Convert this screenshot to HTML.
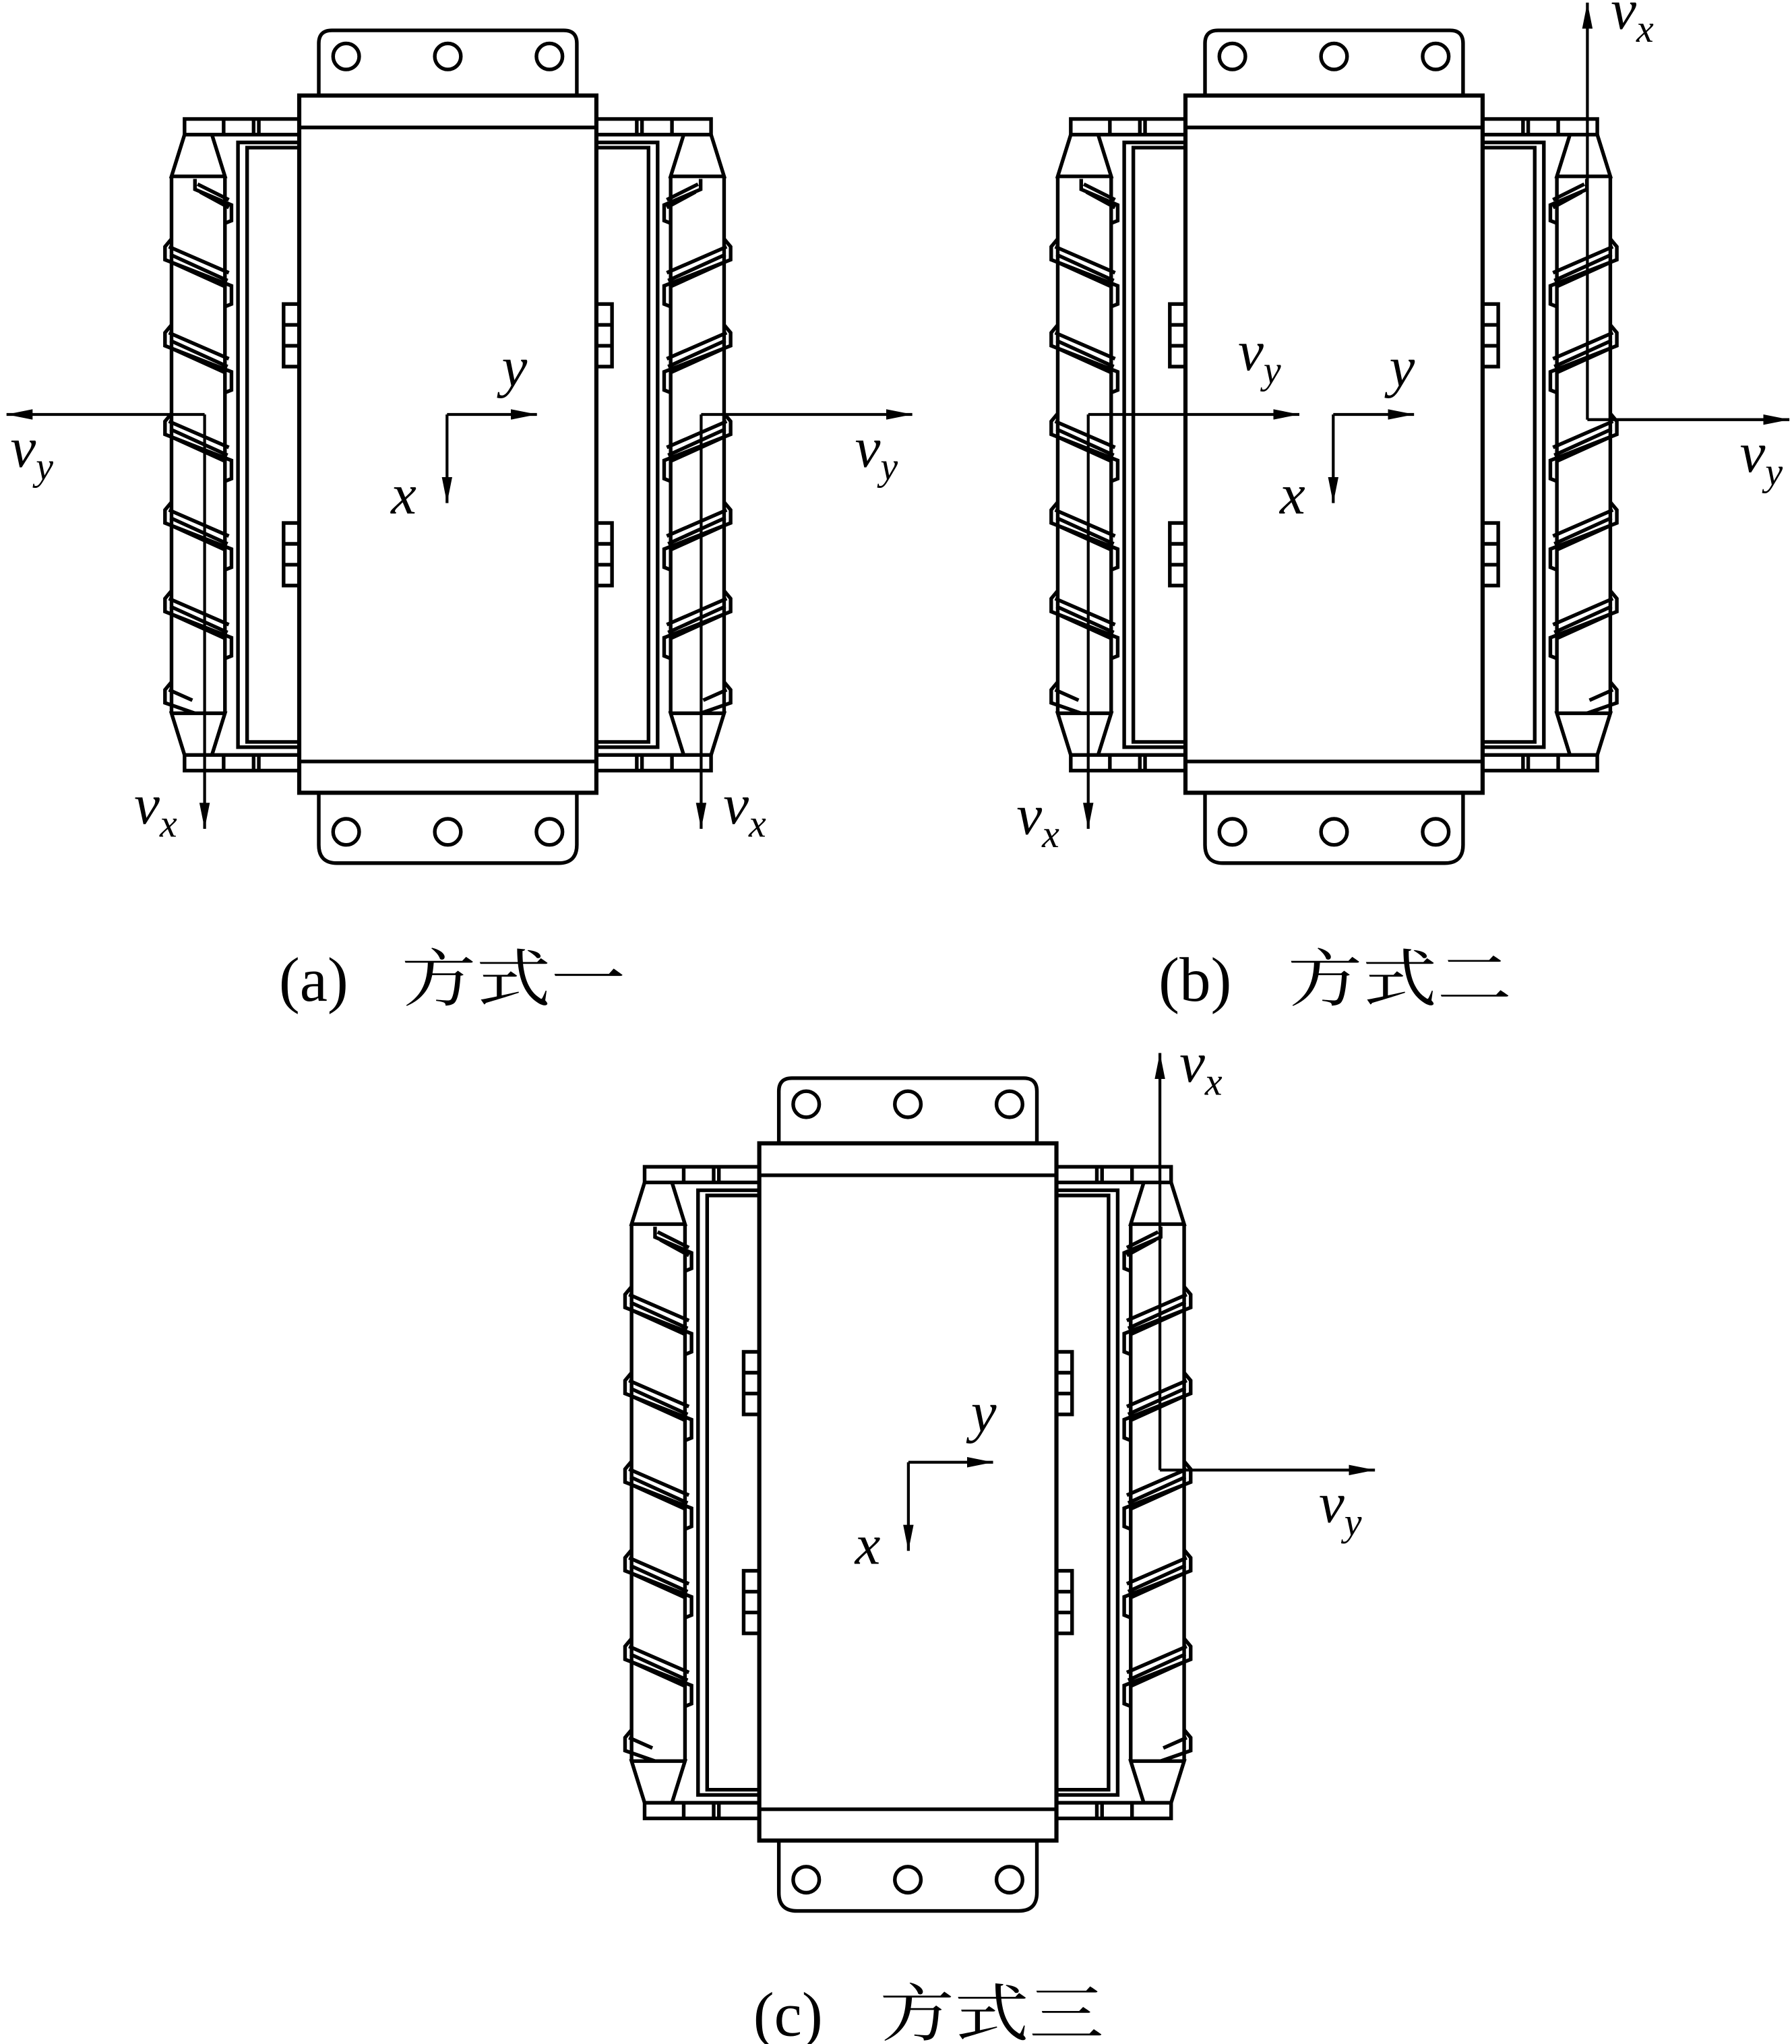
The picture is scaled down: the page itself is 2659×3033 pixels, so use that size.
<!DOCTYPE html>
<html><head><meta charset="utf-8"><style>
html,body{margin:0;padding:0;background:#fff;}
svg{display:block}
text{font-family:"Liberation Serif","Noto Serif CJK SC",serif;fill:#000}
</style></head><body>
<svg width="2659" height="3033" viewBox="0 0 1375 1568.4" xmlns="http://www.w3.org/2000/svg">
<defs>
<g id="side" fill="none" stroke="#000" stroke-width="2.8">
  <rect x="-88" y="18" width="88" height="12"/>
  <line x1="-58" y1="18" x2="-58" y2="30"/><line x1="-35" y1="18" x2="-35" y2="30"/><line x1="-31" y1="18" x2="-31" y2="30"/>
  <rect x="-88" y="506" width="88" height="12"/>
  <line x1="-58" y1="506" x2="-58" y2="518"/><line x1="-35" y1="506" x2="-35" y2="518"/><line x1="-31" y1="506" x2="-31" y2="518"/>
  <path d="M-88 30 L-98 62 L-57 62 L-67 30"/>
  <path d="M-88 506 L-98 474 L-57 474 L-67 506"/>
  <line x1="-98" y1="62" x2="-98" y2="474"/><line x1="-57" y1="62" x2="-57" y2="474"/>
  <path d="M0 36 H-47 V500 H0"/>
  <path d="M0 40 H-40 V496 H0"/>
  <rect x="-12" y="160" width="12" height="48"/><line x1="-12" y1="176" x2="0" y2="176"/><line x1="-12" y1="192" x2="0" y2="192"/>
  <rect x="-12" y="328" width="12" height="48"/><line x1="-12" y1="344" x2="0" y2="344"/><line x1="-12" y1="360" x2="0" y2="360"/>
  <path d="M-80 64 L-80 72 L-52 84 L-52 96 L-57 98 M-78 68 L-54 80 M-76 74 L-54 86"/>
  <path d="M-98 110 L-103 116 L-103 126 L-52 146 L-52 160 L-57 162 M-100 116 L-54 136 M-99 122 L-55 142 M-98 128 L-56 147"/>
  <path d="M-98 176 L-103 182 L-103 192 L-52 212 L-52 226 L-57 228 M-100 182 L-54 202 M-99 188 L-55 208 M-98 194 L-56 213"/>
  <path d="M-98 244 L-103 250 L-103 260 L-52 280 L-52 294 L-57 296 M-100 250 L-54 270 M-99 256 L-55 276 M-98 262 L-56 281"/>
  <path d="M-98 312 L-103 318 L-103 328 L-52 348 L-52 362 L-57 364 M-100 318 L-54 338 M-99 324 L-55 344 M-98 330 L-56 349"/>
  <path d="M-98 380 L-103 386 L-103 396 L-52 416 L-52 430 L-57 432 M-100 386 L-54 406 M-99 392 L-55 412 M-98 398 L-56 417"/>
  <path d="M-98 450 L-103 456 L-103 466 L-80 474 M-100 456 L-82 464"/>
</g>
<g id="mach" fill="none" stroke="#000" stroke-width="2.8">
  <path d="M15 0 V-40 Q15 -50 25 -50 H203 Q213 -50 213 -40 V0"/>
  <circle cx="36" cy="-30" r="10"/><circle cx="114" cy="-30" r="10"/><circle cx="192" cy="-30" r="10"/>
  <path d="M15 535 V575 Q15 589 29 589 H199 Q213 589 213 575 V535"/>
  <circle cx="36" cy="565" r="10"/><circle cx="114" cy="565" r="10"/><circle cx="192" cy="565" r="10"/>
  <rect x="0" y="0" width="228" height="535" stroke-width="3.2"/>
  <line x1="0" y1="24.5" x2="228" y2="24.5"/>
  <line x1="0" y1="511" x2="228" y2="511"/>
  <use href="#side"/>
  <use href="#side" transform="translate(228,0) scale(-1,1)"/>
</g>
<marker id="ar" viewBox="0 0 20 8" refX="20" refY="4" markerWidth="20" markerHeight="8" markerUnits="userSpaceOnUse" orient="auto">
  <path d="M0 0 L20 4 L0 8 Z" fill="#000"/>
</marker>
</defs>

<use href="#mach" x="229.6" y="73.3"/>
<use href="#mach" x="909.6" y="73.3"/>
<use href="#mach" x="582.6" y="877.3"/>

<g stroke="#000" stroke-width="2.2" fill="none" marker-end="url(#ar)">
  <path d="M157 318 H5"/>
  <path d="M157 318 V636"/>
  <path d="M538 318 H700"/>
  <path d="M538 318 V636"/>
  <path d="M343 318 H412"/>
  <path d="M343 318 V386"/>
  <path d="M835 318 V636"/>
  <path d="M835 318 H997"/>
  <path d="M1218 322 V2"/>
  <path d="M1218 322 H1373"/>
  <path d="M1023 318 H1085"/>
  <path d="M1023 318 V386"/>
  <path d="M890 1128 V808"/>
  <path d="M890 1128 H1055"/>
  <path d="M697 1122 H762"/>
  <path d="M697 1122 V1190"/>
</g>

<g font-style="italic" font-size="44">
  <text x="385" y="296">y</text>
  <text x="300" y="394">x</text>
  <text x="8" y="358">v<tspan font-size="30" dy="10">y</tspan></text>
  <text x="656" y="358">v<tspan font-size="30" dy="10">y</tspan></text>
  <text x="103" y="632">v<tspan font-size="30" dy="10">x</tspan></text>
  <text x="555" y="632">v<tspan font-size="30" dy="10">x</tspan></text>
  <text x="1066" y="296">y</text>
  <text x="982" y="394">x</text>
  <text x="950" y="284">v<tspan font-size="30" dy="10">y</tspan></text>
  <text x="1335" y="362">v<tspan font-size="30" dy="10">y</tspan></text>
  <text x="780" y="640">v<tspan font-size="30" dy="10">x</tspan></text>
  <text x="1236" y="22">v<tspan font-size="30" dy="10">x</tspan></text>
  <text x="745" y="1098">y</text>
  <text x="656" y="1200">x</text>
  <text x="1012" y="1168">v<tspan font-size="30" dy="10">y</tspan></text>
  <text x="905" y="830">v<tspan font-size="30" dy="10">x</tspan></text>
</g>

<g font-size="48">
  <text x="214" y="768">(a)</text><text x="308" y="768" textLength="172" lengthAdjust="spacingAndGlyphs">方式一</text>
  <text x="889" y="768">(b)</text><text x="988" y="768" textLength="172" lengthAdjust="spacingAndGlyphs">方式二</text>
  <text x="578" y="1562">(c)</text><text x="675" y="1562" textLength="172" lengthAdjust="spacingAndGlyphs">方式三</text>
</g>
</svg>
</body></html>
